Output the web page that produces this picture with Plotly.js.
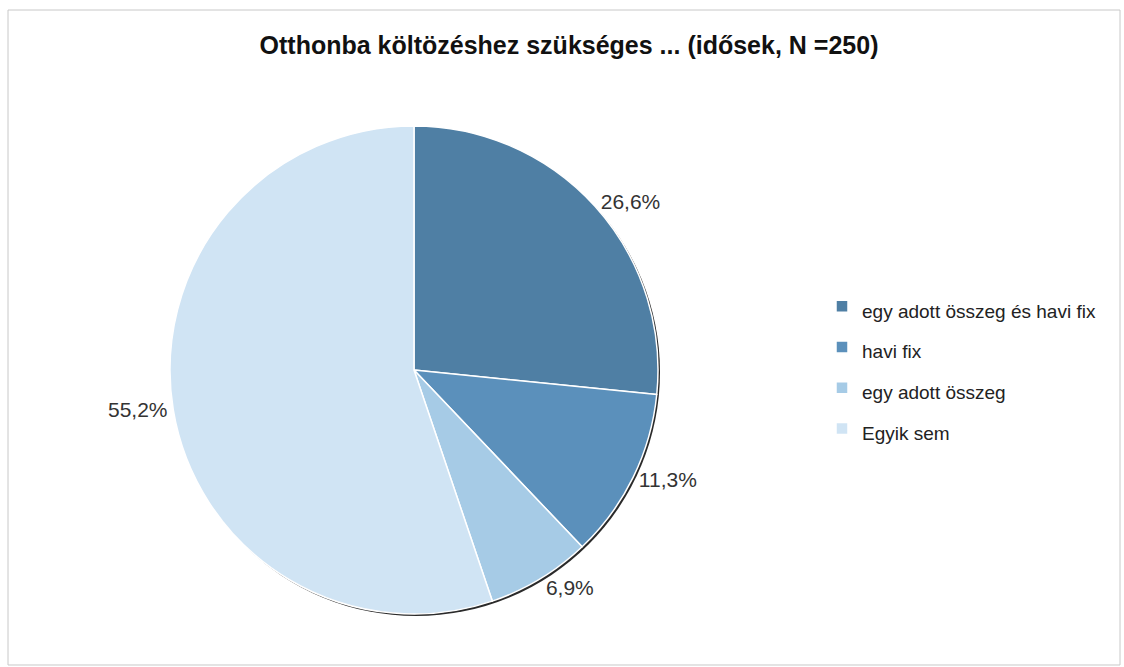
<!DOCTYPE html>
<html><head><meta charset="utf-8">
<script src="https://cdn.plot.ly/plotly-3.0.1.min.js"></script>
<style>html,body{margin:0;padding:0;background:#fff;}#chart{width:1124px;height:667px;}</style>
</head><body><div id="chart"></div>
<script>
const categories = ["egy adott összeg és havi fix", "havi fix", "egy adott összeg", "Egyik sem"];
const shares = [26.6, 11.3, 6.9, 55.2];
const sliceColors = ["#4f7fa4", "#5b90bb", "#a6cbe6", "#d0e4f4"];
const chartTitle = "Otthonba költözéshez szükséges ... (idősek, N =250)";

const fontFam = "'Liberation Sans', Arial, sans-serif";
const cx = 414, cy = 370, r = 244, W = 1124, H = 667;

const trace = {
  type: "pie",
  labels: categories.map(c => '<span style="font-size:19px">' + c + '</span>'),
  values: shares,
  sort: false,
  direction: "clockwise",
  rotation: 0,
  marker: { colors: sliceColors, line: { color: "#ffffff", width: 1.5 } },
  texttemplate: "%{value:.1f}%",
  textposition: "outside",
  outsidetextfont: { family: fontFam, size: 21, color: "#333333" },
  hoverinfo: "label+value",
  domain: { x: [(cx - r) / W, (cx + r) / W], y: [1 - (cy + r) / H, 1 - (cy - r) / H] },
  automargin: false
};

const layout = {
  width: W, height: H,
  margin: { l: 0, r: 0, t: 0, b: 0 },
  paper_bgcolor: "#ffffff",
  separators: ", ",
  font: { family: fontFam, color: "#222222" },
  title: {
    text: "<b>" + chartTitle + "</b>",
    font: { family: fontFam, size: 25, color: "#111111" },
    x: 569 / W, xanchor: "center",
    y: 1 - 45 / H, yanchor: "middle"
  },
  showlegend: true,
  legend: {
    x: 822 / W, xanchor: "left",
    y: 1 - 281 / H, yanchor: "top",
    font: { family: fontFam, size: 29, color: "#222222" },
    bgcolor: "rgba(0,0,0,0)",
    itemwidth: 30
  },
  shapes: [
    { type: "rect", xref: "paper", yref: "paper", x0: 8 / W, x1: 1120 / W, y0: 0.003, y1: 1 - 10 / H,
      line: { color: "#c8c8c8", width: 1 } },
    { type: "circle", xref: "paper", yref: "paper", layer: "below",
      x0: (cx - r + 2) / W, x1: (cx + r + 2) / W, y0: 1 - (cy + r + 2) / H, y1: 1 - (cy - r + 2) / H,
      fillcolor: "#2a2a2a", line: { width: 0 } }
  ]
};

Plotly.newPlot("chart", [trace], layout, { displayModeBar: false, staticPlot: true });
</script></body></html>
